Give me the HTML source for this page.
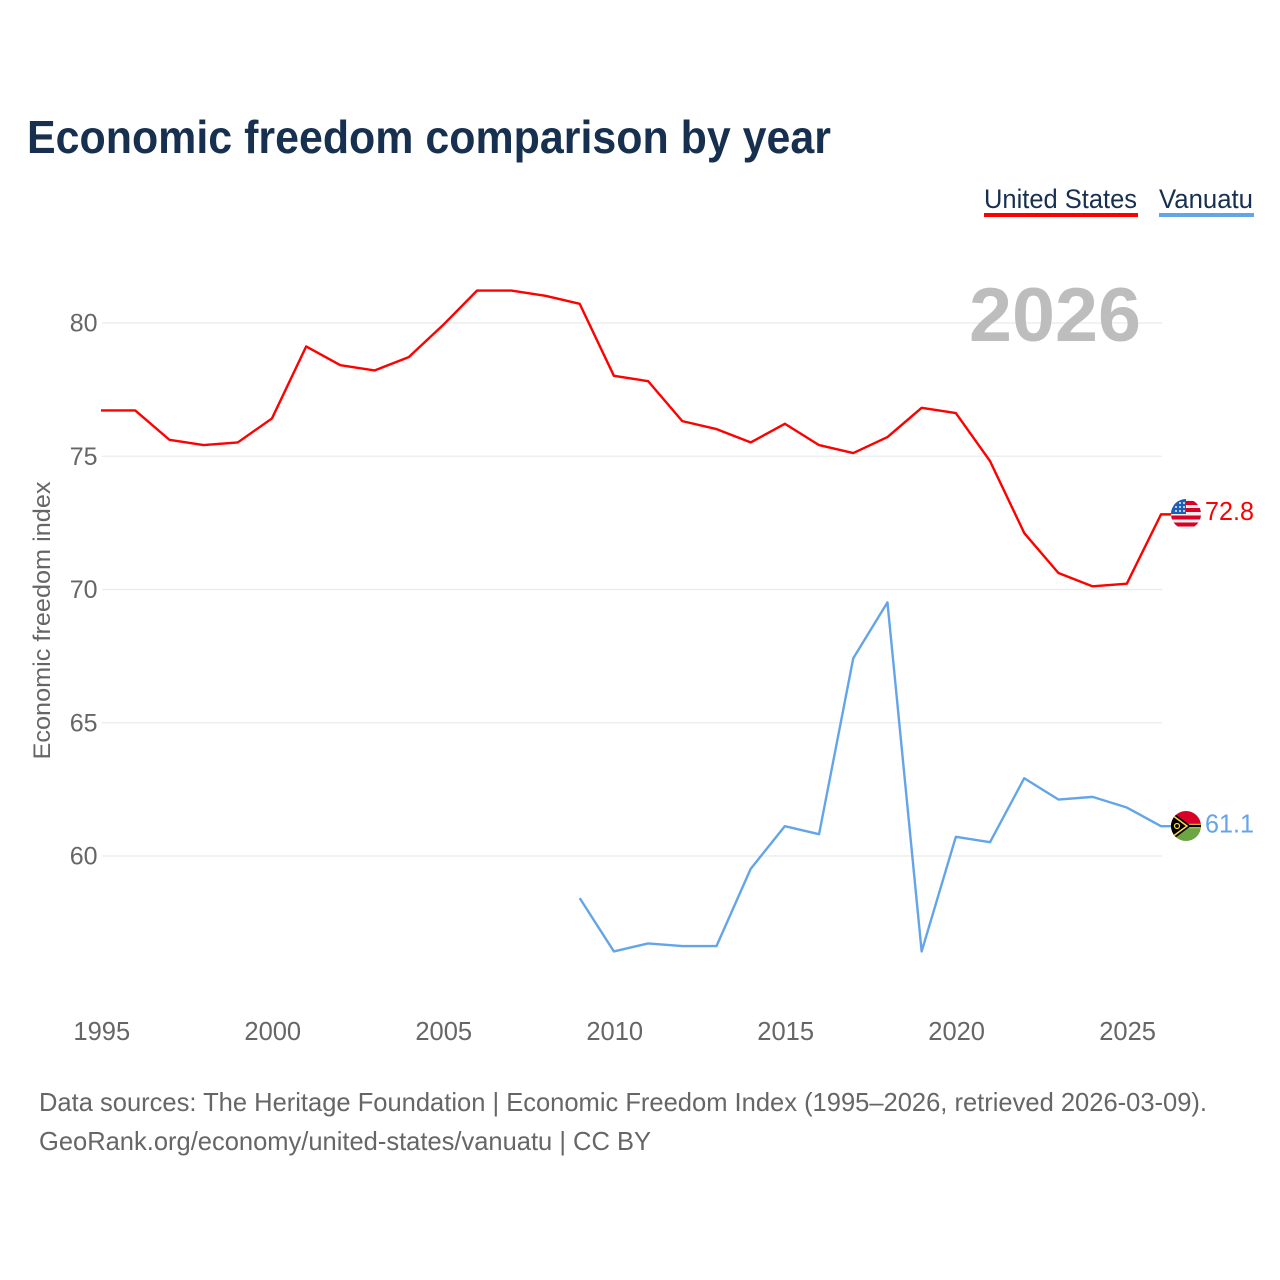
<!DOCTYPE html>
<html><head><meta charset="utf-8"><title>Economic freedom comparison by year</title>
<style>html,body{margin:0;padding:0;background:#fff}svg{display:block}text{font-family:"Liberation Sans",sans-serif}</style></head>
<body>
<svg id="chart" width="1280" height="1280" viewBox="0 0 1280 1280" xmlns="http://www.w3.org/2000/svg">
<defs>
<clipPath id="us-clip"><circle cx="1186" cy="514" r="15"/></clipPath>
<clipPath id="vu-clip"><circle cx="1186" cy="826" r="15"/></clipPath>
</defs>
<rect width="1280" height="1280" fill="#fff"/>
<text x="27" y="153" font-size="46" font-weight="700" fill="#18304f" textLength="804" lengthAdjust="spacingAndGlyphs">Economic freedom comparison by year</text>
<text x="984" y="208" font-size="27" fill="#18304f" textLength="153" lengthAdjust="spacingAndGlyphs">United States</text>
<rect x="984" y="213" width="154" height="4" fill="#ff0000"/>
<text x="1159" y="208" font-size="27" fill="#18304f" textLength="94" lengthAdjust="spacingAndGlyphs">Vanuatu</text>
<rect x="1159" y="213" width="95" height="4" fill="#63a5e8"/>
<g id="grid"></g>
<g id="y-ticks"></g>
<g id="x-ticks"></g>
<text x="1141" y="341" text-anchor="end" font-size="76" font-weight="700" fill="#bdbdbd" textLength="172" lengthAdjust="spacingAndGlyphs">2026</text>
<text transform="translate(50,620.5) rotate(-90)" text-anchor="middle" font-size="24.5" fill="#666" textLength="278" lengthAdjust="spacingAndGlyphs">Economic freedom index</text>
<path id="line-us" fill="none" stroke="#ff0000" stroke-width="2.4" stroke-linejoin="round"/>
<path id="line-vu" fill="none" stroke="#63a5e8" stroke-width="2.4" stroke-linejoin="round"/>
<g clip-path="url(#us-clip)">
<rect x="1171" y="499" width="30" height="30" fill="#eee"/>
<rect x="1171" y="501" width="30" height="4" fill="#d80027"/>
<rect x="1171" y="508" width="30" height="4" fill="#d80027"/>
<rect x="1171" y="515.500" width="30" height="4" fill="#d80027"/>
<rect x="1171" y="522.500" width="30" height="4" fill="#d80027"/>
<rect x="1171" y="499" width="15" height="15" fill="#1c5fb5"/>
<circle cx="1176" cy="507" r="1" fill="#eee"/><circle cx="1180" cy="503" r="1" fill="#eee"/><circle cx="1180" cy="507" r="1" fill="#eee"/><circle cx="1180" cy="511" r="1" fill="#eee"/><circle cx="1184" cy="503" r="1" fill="#eee"/><circle cx="1184" cy="507" r="1" fill="#eee"/><circle cx="1184" cy="511" r="1" fill="#eee"/><circle cx="1176" cy="511" r="1" fill="#eee"/>
</g>
<g clip-path="url(#vu-clip)">
<rect x="1171" y="811" width="30" height="15" fill="#d80027"/>
<rect x="1171" y="826" width="30" height="15" fill="#6da544"/>
<rect x="1171" y="824" width="30" height="4" fill="#000"/>
<rect x="1186" y="823.800" width="15" height="1" fill="#ffda44"/>
<rect x="1186" y="827.200" width="15" height="1" fill="#ffda44"/>
<polygon points="1171,811 1171,841 1191,826" fill="#000"/>
<polyline points="1172,815 1187,826 1172,837" fill="none" stroke="#ffda44" stroke-width="1.500"/>
<circle cx="1177" cy="826" r="2.500" fill="none" stroke="#ffda44" stroke-width="1.200"/>
</g>
<text id="label-us" x="1205" y="520" font-size="25.500" fill="#ff0000" textLength="49" lengthAdjust="spacingAndGlyphs"></text>
<text id="label-vu" x="1205" y="832.500" font-size="25.500" fill="#63a5e8" textLength="49" lengthAdjust="spacingAndGlyphs"></text>
<text x="39" y="1111" font-size="26" fill="#666" textLength="1168" lengthAdjust="spacingAndGlyphs">Data sources: The Heritage Foundation | Economic Freedom Index (1995–2026, retrieved 2026-03-09).</text>
<text x="39" y="1150" font-size="26" fill="#666" textLength="612" lengthAdjust="spacingAndGlyphs">GeoRank.org/economy/united-states/vanuatu | CC BY</text>
</svg>
<script>
const years = [1995,1996,1997,1998,1999,2000,2001,2002,2003,2004,2005,2006,2007,2008,2009,2010,2011,2012,2013,2014,2015,2016,2017,2018,2019,2020,2021,2022,2023,2024,2025,2026];
const unitedStates = [76.7,76.7,75.6,75.4,75.5,76.4,79.1,78.4,78.2,78.7,79.9,81.2,81.2,81.0,80.7,78.0,77.8,76.3,76.0,75.5,76.2,75.4,75.1,75.7,76.8,76.6,74.8,72.1,70.6,70.1,70.2,72.8];
const vanuatu = [null,null,null,null,null,null,null,null,null,null,null,null,null,null,58.4,56.4,56.7,56.6,56.6,59.5,61.1,60.8,67.4,69.5,56.4,60.7,60.5,62.9,62.1,62.2,61.8,61.1];
const yTickValues = [60,65,70,75,80];
const xTickValues = [1995,2000,2005,2010,2015,2020,2025];

const NS = 'http://www.w3.org/2000/svg';
function xScale(year) { return 101 + (year - 1995) * (1161 - 101) / 31; }
function yScale(value) { return 856 + (value - 60) * (323 - 856) / 20; }
function linePath(series) {
  let d = '', pen = false, last = null;
  series.forEach(function (v, i) {
    if (v === null) { pen = false; return; }
    d += (pen ? 'L' : 'M') + xScale(years[i]).toFixed(2) + ' ' + (yScale(v) - 0.5).toFixed(2);
    pen = true;
    last = v;
  });
  /* short horizontal leader from the final point to the flag */
  d += 'L1171 ' + (yScale(last) - 0.5).toFixed(2);
  return d;
}
const grid = document.getElementById('grid');
const yTicks = document.getElementById('y-ticks');
const xTicks = document.getElementById('x-ticks');
yTickValues.forEach(function (v) {
  const ln = document.createElementNS(NS, 'line');
  
  
  ln.setAttribute('x1', 102);
  ln.setAttribute('x2', 1162);
  ln.setAttribute('y1', yScale(v));
  ln.setAttribute('y2', yScale(v));
  ln.setAttribute('stroke', '#ebebeb');
  ln.setAttribute('stroke-width', '1.3');
  grid.appendChild(ln);
  const t = document.createElementNS(NS, 'text');
  
  
  t.setAttribute('x', 97.5);
  t.setAttribute('y', yScale(v) + 8.5);
  t.setAttribute('text-anchor', 'end');
  t.setAttribute('font-size', '25');
  t.setAttribute('fill', '#666');
  t.textContent = v;
  yTicks.appendChild(t);
});
xTickValues.forEach(function (v) {
  const t = document.createElementNS(NS, 'text');
  
  
  t.setAttribute('x', xScale(v) + 0.8);
  t.setAttribute('y', 1040);
  t.setAttribute('text-anchor', 'middle');
  t.setAttribute('font-size', '25.5');
  t.setAttribute('fill', '#666');
  t.textContent = v;
  xTicks.appendChild(t);
});
document.getElementById('line-us').setAttribute('d', linePath(unitedStates));
document.getElementById('line-vu').setAttribute('d', linePath(vanuatu));
document.getElementById('label-us').textContent = unitedStates[unitedStates.length - 1].toFixed(1);
document.getElementById('label-vu').textContent = vanuatu[vanuatu.length - 1].toFixed(1);
</script>
</body></html>
